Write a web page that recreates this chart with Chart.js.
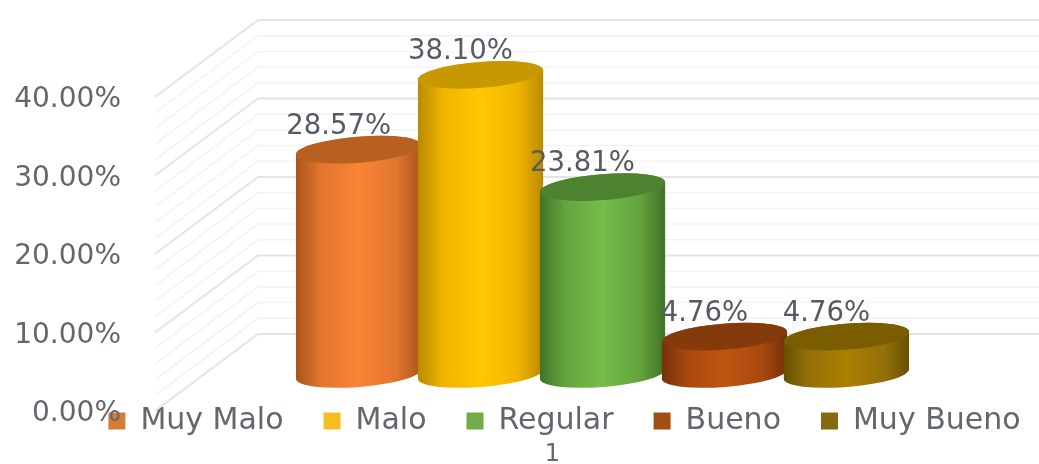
<!DOCTYPE html>
<html>
<head>
<meta charset="utf-8">
<style>
html,body{margin:0;padding:0;background:#fff}
canvas{display:block}
</style>
<script src="https://cdn.jsdelivr.net/npm/chart.js@4"></script>
</head>
<body>
<canvas id="c" width="1039" height="464"></canvas>
<script>
const categories = ['1'];
const seriesNames = ['Muy Malo', 'Malo', 'Regular', 'Bueno', 'Muy Bueno'];
const muyMalo = [28.57];
const malo = [38.10];
const regular = [23.81];
const bueno = [4.76];
const muyBueno = [4.76];
const seriesValues = [muyMalo, malo, regular, bueno, muyBueno];
const swatches = ['#D87A38', '#F5BE20', '#70AD47', '#A44E14', '#866A10'];
// edge, shoulder and centre tones of each cylinder wall, then its lid
const tones = [
  ['#A9541B', '#E27630', '#FA8434', '#B8601F'],
  ['#B98A00', '#F0B400', '#FFC800', '#C79800'],
  ['#3F7326', '#64A33E', '#76BD4B', '#4C8230'],
  ['#72300A', '#A8480F', '#BF5610', '#853A0B'],
  ['#655000', '#94700A', '#AB7F00', '#7A5D00']
];

const FONT = '"DejaVu Sans", sans-serif';
const TEXT = '#62666D';
const DEPTH_X = 103;     // wall offset from the front plane
const DEPTH_Y = -77;
const BAR_DX = 50;       // columns stand half way into the depth
const BAR_DY = -37;
const RX_SCALE = 1.03;
const RY = 13;
const TILT = -4.5 * Math.PI / 180;

function cylinder(ctx, cx, topY, baseY, rx, t) {
  const g = ctx.createLinearGradient(cx - rx, 0, cx + rx, 0);
  g.addColorStop(0, t[0]);
  g.addColorStop(0.2, t[1]);
  g.addColorStop(0.5, t[2]);
  g.addColorStop(0.8, t[1]);
  g.addColorStop(1, t[0]);
  ctx.beginPath();
  ctx.ellipse(cx, baseY, rx, RY, TILT, 0, Math.PI);
  ctx.ellipse(cx, topY, rx, RY, TILT, Math.PI, 2 * Math.PI);
  ctx.closePath();
  ctx.fillStyle = g;
  ctx.fill();
  ctx.beginPath();
  ctx.ellipse(cx, topY, rx, RY, TILT, 0, 2 * Math.PI);
  ctx.fillStyle = t[3];
  ctx.fill();
}

const walls = {
  id: 'walls',
  beforeDatasetsDraw(chart) {
    const { ctx, scales: { y }, chartArea, width } = chart;
    const line = (v, color, lw) => {
      const py = y.getPixelForValue(v);
      ctx.beginPath();
      ctx.moveTo(chartArea.left, py);
      ctx.lineTo(chartArea.left + DEPTH_X, py + DEPTH_Y);
      ctx.lineTo(width, py + DEPTH_Y);
      ctx.strokeStyle = color;
      ctx.lineWidth = lw;
      ctx.stroke();
    };
    ctx.save();
    for (let v = 0; v <= y.max; v += 2) {
      if (v % 10) line(v, '#F3F3F3', 1.5);
    }
    y.ticks.forEach(t => line(t.value, '#E4E4E4', 2));
    ctx.restore();
  }
};

const columns = {
  id: 'columns',
  beforeDatasetDraw() { return false; },
  afterDatasetsDraw(chart) {
    const { ctx } = chart;
    const bars = chart.data.datasets.map((d, i) => chart.getDatasetMeta(i).data[0]);
    bars.forEach((b, i) => {
      cylinder(ctx, b.x + BAR_DX, b.y + BAR_DY, b.base + BAR_DY, b.width / 2 * RX_SCALE, tones[i]);
    });
    ctx.save();
    ctx.font = '27.5px ' + FONT;
    ctx.fillStyle = '#555A63';
    ctx.textAlign = 'center';
    ctx.textBaseline = 'middle';
    bars.forEach((b, i) => {
      const label = chart.data.datasets[i].data[0].toFixed(2) + '%';
      ctx.fillText(label, b.x + BAR_DX - 20, b.y + BAR_DY - 23);
    });
    ctx.restore();
  }
};

// The key sits over the floor of the plot and takes no layout space of its own.
const floatingLegend = {
  id: 'floatingLegend',
  beforeLayout(chart) {
    const lg = chart.legend;
    if (lg && !lg._flat) {
      const fit = lg.fit;
      lg.fit = function () {
        this.maxWidth = 1300;
        fit.call(this);
        this.height = 0;
      };
      lg._flat = true;
    }
  },
  afterLayout(chart) {
    const lg = chart.legend;
    lg.left = -91;
    lg.right = 1220;
    lg.top = 366;
    lg.bottom = 464;
  }
};

new Chart(document.getElementById('c'), {
  type: 'bar',
  data: {
    labels: categories,
    datasets: seriesNames.map((name, i) => ({
      label: name,
      data: seriesValues[i],
      backgroundColor: swatches[i]
    }))
  },
  options: {
    responsive: false,
    animation: false,
    layout: { autoPadding: false, padding: { top: 97, right: 89, left: 0, bottom: 0 } },
    datasets: { bar: { categoryPercentage: 0.767, barPercentage: 1 } },
    scales: {
      x: {
        grid: { display: false },
        border: { display: false },
        ticks: { padding: 21, color: TEXT, font: { family: FONT, size: 24 } },
        afterFit(s) { s.height = 53; }
      },
      y: {
        min: 0,
        max: 40,
        grid: { display: false, drawTicks: false },
        border: { display: false },
        ticks: {
          stepSize: 10,
          padding: 34,
          labelOffset: 3,
          color: TEXT,
          font: { family: FONT, size: 28 },
          callback: v => v.toFixed(2) + '%'
        },
        afterFit(s) { s.width = 155; }
      }
    },
    plugins: {
      legend: {
        position: 'bottom',
        labels: {
          boxWidth: 17,
          boxHeight: 17,
          padding: 40,
          color: TEXT,
          font: { family: FONT, size: 30 }
        }
      },
      tooltip: { enabled: false }
    }
  },
  plugins: [walls, columns, floatingLegend]
});
</script>
</body>
</html>
